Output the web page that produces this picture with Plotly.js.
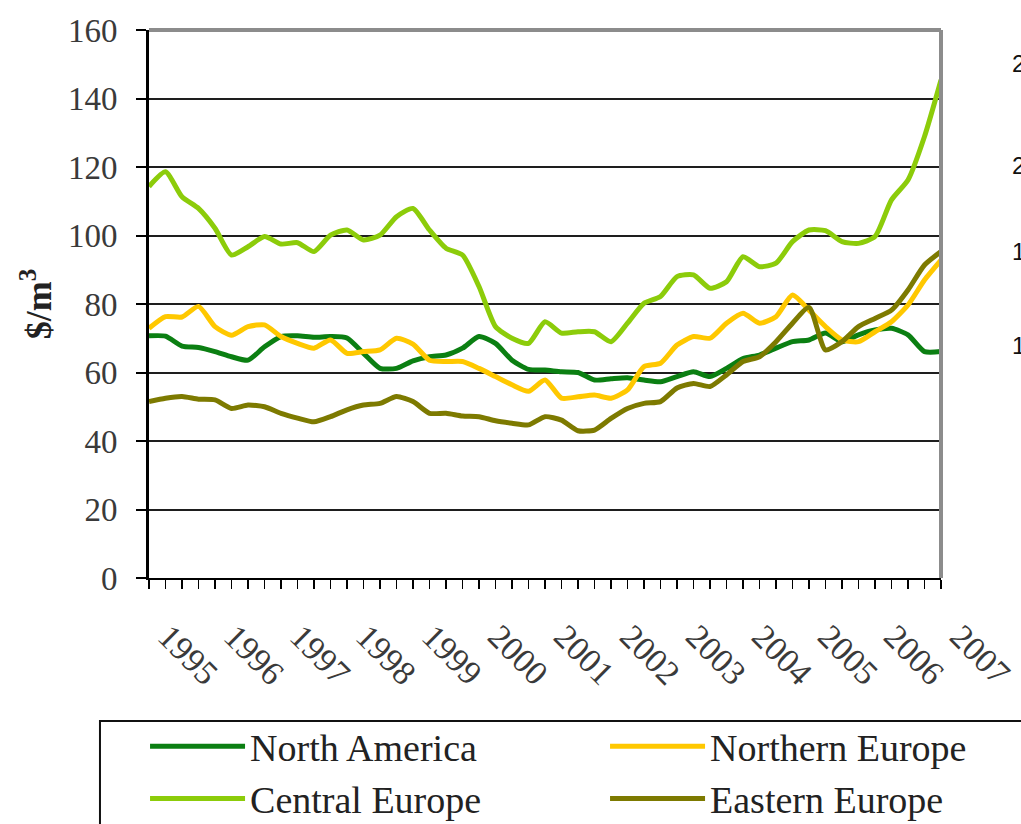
<!DOCTYPE html>
<html>
<head>
<meta charset="utf-8">
<script src="https://cdn.plot.ly/plotly-3.0.1.min.js"></script>
<style>
  html, body { margin: 0; padding: 0; background: #ffffff; }
  #chart { width: 1021px; height: 824px; }
</style>
</head>
<body>
<div id="chart"></div>
<script>
// Quarterly time axis (years)
const quarters = [
  1995, 1995.25, 1995.5, 1995.75, 1996, 1996.25, 1996.5, 1996.75,
  1997, 1997.25, 1997.5, 1997.75, 1998, 1998.25, 1998.5, 1998.75,
  1999, 1999.25, 1999.5, 1999.75, 2000, 2000.25, 2000.5, 2000.75,
  2001, 2001.25, 2001.5, 2001.75, 2002, 2002.25, 2002.5, 2002.75,
  2003, 2003.25, 2003.5, 2003.75, 2004, 2004.25, 2004.5, 2004.75,
  2005, 2005.25, 2005.5, 2005.75, 2006, 2006.25, 2006.5, 2006.75,
  2007
];

const yearTicks = [1995, 1996, 1997, 1998, 1999, 2000, 2001, 2002, 2003, 2004, 2005, 2006, 2007];
const yearLabels = ["1995", "1996", "1997", "1998", "1999", "2000", "2001", "2002", "2003", "2004", "2005", "2006", "2007"];

const northAmerica = [
  70.7, 70.6, 67.7, 67.3, 66.1, 64.6, 63.6, 67.5, 70.5, 70.7,
  70.3, 70.5, 70.1, 65.6, 61.2, 61.2, 63.4, 64.6, 65.1, 67.1,
  70.5, 68.5, 63.6, 60.9, 60.7, 60.2, 60.0, 57.8, 58.2, 58.5,
  57.8, 57.3, 58.8, 60.2, 58.8, 61.2, 64.1, 65.1, 67.1, 69.0,
  69.5, 71.5, 69.0, 71.0, 72.4, 72.9, 71.0, 66.1, 66.1
];

const northernEurope = [
  72.9, 76.3, 76.2, 79.3, 73.4, 70.9, 73.4, 73.9, 70.5, 68.5,
  67.1, 69.5, 65.6, 66.1, 66.6, 70.0, 68.3, 63.6, 63.2, 63.2,
  61.2, 58.8, 56.4, 54.5, 57.8, 52.5, 52.9, 53.4, 52.5, 54.9,
  61.7, 62.7, 68.0, 70.5, 70.0, 74.4, 77.3, 74.4, 76.3, 82.6,
  78.2, 73.4, 69.5, 69.0, 71.9, 74.8, 79.7, 87.0, 92.8
];

const centralEurope = [
  114.3, 118.6, 111.3, 107.9, 102.1, 94.3, 96.7, 99.7, 97.5, 97.9,
  95.3, 100.1, 101.6, 98.7, 100.1, 105.5, 107.9, 101.6, 96.3, 94.3,
  85.1, 73.4, 70.0, 68.5, 74.8, 71.5, 71.9, 71.9, 69.0, 74.4,
  80.2, 82.2, 88.0, 88.5, 84.6, 86.5, 93.8, 90.9, 91.9, 98.2,
  101.6, 101.4, 98.2, 97.7, 99.7, 110.4, 116.2, 128.9, 145.4
];

const easternEurope = [
  51.5, 52.5, 53.0, 52.2, 52.0, 49.5, 50.5, 50.0, 48.1, 46.7,
  45.6, 47.1, 49.1, 50.5, 51.0, 53.0, 51.5, 48.1, 48.1, 47.3,
  47.1, 45.9, 45.2, 44.7, 47.1, 46.1, 43.0, 43.2, 46.6, 49.5,
  51.0, 51.5, 55.5, 56.8, 55.9, 59.3, 63.2, 64.6, 69.0, 74.4,
  79.0, 66.6, 69.0, 73.4, 75.8, 78.2, 84.1, 91.4, 95.3
];

const seriesNames = ["North America", "Northern Europe", "Central Europe", "Eastern Europe"];
const seriesColors = ["#0b7f12", "#ffc800", "#8ccc0a", "#7d7a00"];
const seriesValues = [northAmerica, northernEurope, centralEurope, easternEurope];

const rightEdgeDigits = ["2", "2", "1", "1"];

const serif = "Liberation Serif, Times New Roman, serif";

const traces = seriesNames.map((name, i) => ({
  type: "scatter",
  mode: "lines",
  name: name,
  x: quarters,
  y: seriesValues[i],
  line: { color: seriesColors[i], width: 5, shape: "spline", smoothing: 0.6 }
}));

const digitY = [0.938, 0.752, 0.595, 0.425];
const annotations = rightEdgeDigits.map((t, i) => ({
  xref: "paper", yref: "paper",
  x: 1.0875, y: digitY[i],
  xanchor: "left", yanchor: "middle",
  text: t, showarrow: false,
  font: { family: "Liberation Sans, Arial, sans-serif", size: 24, color: "#111" }
}));

const layout = {
  width: 1021,
  height: 824,
  paper_bgcolor: "#ffffff",
  plot_bgcolor: "#ffffff",
  margin: { l: 149, r: 80, t: 30, b: 246, autoexpand: false },
  showlegend: true,
  xaxis: {
    range: [1995, 2007],
    tickmode: "array",
    tickvals: yearTicks,
    ticktext: yearLabels,
    tickangle: 45,
    ticks: "outside",
    ticklen: 9,
    tickwidth: 1.5,
    tickcolor: "#000",
    ticklabelstandoff: 14,
    ticklabelshift: 19,
    ticklabeloverflow: "allow",
    minor: { dtick: 0.25, tick0: 1995, ticks: "outside", ticklen: 9, tickwidth: 1.5, tickcolor: "#000", showgrid: false },
    showgrid: false,
    zeroline: false,
    showline: true,
    linecolor: "#000",
    linewidth: 2,
    tickfont: { family: serif, size: 34, color: "#3a3a3a" }
  },
  yaxis: {
    range: [0, 160],
    dtick: 20,
    tick0: 0,
    ticks: "outside",
    ticklen: 10,
    tickwidth: 2,
    tickcolor: "#000",
    ticklabelstandoff: 12,
    showgrid: true,
    gridcolor: "#1e1e1e",
    gridwidth: 2,
    zeroline: false,
    showline: true,
    linecolor: "#000",
    linewidth: 3,
    tickfont: { family: serif, size: 33, color: "#3a3a3a" },
    title: {
      text: "<b>$/m<sup>3</sup></b>",
      standoff: 6,
      font: { family: serif, size: 36, color: "#222" }
    }
  },
  legend: {
    orientation: "h",
    x: -0.005,
    xanchor: "left",
    y: -0.25,
    yanchor: "top",
    itemwidth: 95,
    entrywidth: 350,
    bgcolor: "rgba(0,0,0,0)",
    borderwidth: 0,
    font: { family: serif, size: 38, color: "#222" },
    traceorder: "normal"
  },
  shapes: [
    { type: "line", xref: "paper", yref: "paper", x0: 0, x1: 1, y0: 1, y1: 1,
      line: { color: "#8c8c8c", width: 4 } },
    { type: "line", xref: "paper", yref: "paper", x0: 1, x1: 1, y0: 0, y1: 1,
      line: { color: "#8c8c8c", width: 4 } },
    { type: "rect", xref: "paper", yref: "paper", x0: -0.0619, x1: 1.2, y0: -0.6, y1: -0.261,
      line: { color: "#111", width: 2 }, fillcolor: "rgba(0,0,0,0)" }
  ],
  annotations: annotations
};

Plotly.newPlot("chart", traces, layout, { staticPlot: true, displayModeBar: false });
</script>
</body>
</html>
